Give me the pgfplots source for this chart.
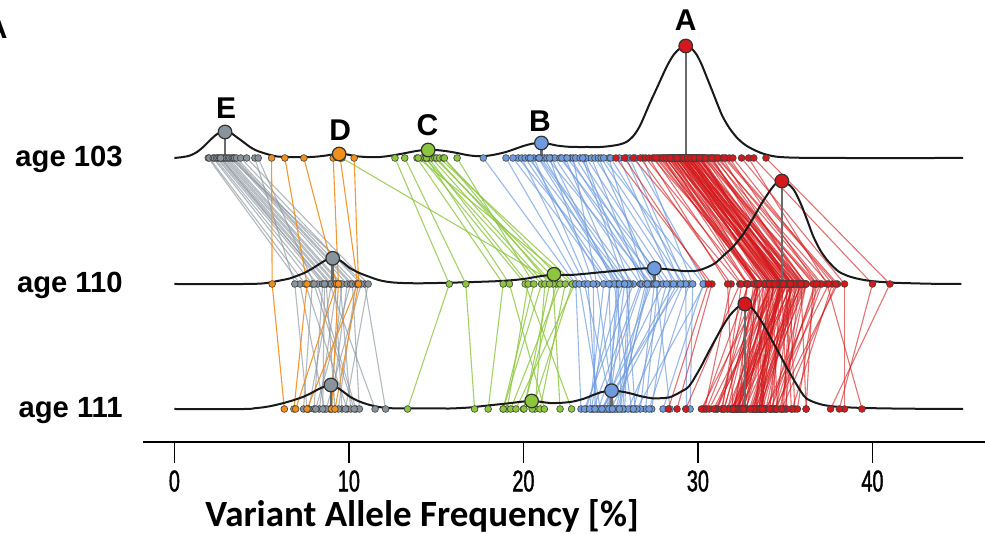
\documentclass[border=0pt]{standalone}
\usepackage{fontspec}
\setmainfont{Liberation Sans}
\newfontfamily\tickfont[FakeStretch=0.66, FakeBold=1.3]{Liberation Sans}
\newfontfamily\titlefont{Carlito}
\usepackage{pgfplots}
\usepackage{pgfplotstable}
\pgfplotsset{compat=1.18}

\definecolor{cRed}{HTML}{D3191C}
\definecolor{cBlue}{HTML}{6E9BDE}
\definecolor{cGreen}{HTML}{8CC63E}
\definecolor{cOrange}{HTML}{F28E1C}
\definecolor{cGray}{HTML}{88939C}
\definecolor{cStem}{HTML}{6A6A6A}

% VAF (%) of each variant at age 103 (a), 110 (b) and 111 (c)
\pgfplotstableread{
a b c
25.3 30.8 28.8
25.8 30.6 28.3
26.3 32.4 29.3
26.7 31.9 30.4
27.0 32.9 30.3
27.2 31.7 32.0
27.4 33.8 30.2
27.5 32.5 31.4
27.7 33.4 31.1
27.8 33.8 32.0
27.9 33.4 30.5
28.0 32.8 32.4
28.1 34.2 32.2
28.2 33.4 32.6
28.3 34.2 31.1
28.35 32.85 31.35
28.4 34.8 32.2
28.5 33.5 33.8
28.55 34.25 30.65
28.6 34.6 33.5
28.65 34.15 31.85
28.7 33.5 31.7
28.75 34.85 31.95
28.8 34.0 33.6
28.85 34.75 32.75
28.9 33.4 32.6
28.95 35.35 32.25
29.0 34.0 32.5
29.0 34.7 32.1
29.05 35.05 35.35
29.1 34.6 31.0
29.1 33.9 32.8
29.15 35.25 32.95
29.2 34.4 32.6
29.2 35.1 32.2
29.25 33.75 33.35
29.3 35.7 33.7
29.3 34.3 33.5
29.35 35.05 31.95
29.4 35.4 33.9
29.4 34.9 32.3
29.45 34.25 34.55
29.5 35.6 32.0
29.5 34.7 33.6
29.55 35.45 33.15
29.6 34.1 32.3
29.65 36.05 33.15
29.7 34.7 34.3
29.75 35.45 33.45
29.8 35.8 35.0
29.85 35.35 32.25
29.9 34.7 33.2
30.0 36.1 33.5
30.05 35.25 35.55
30.1 36.0 32.4
30.2 34.7 33.6
30.3 36.7 34.4
30.4 35.4 33.6
30.5 36.2 33.3
30.6 36.6 36.2
30.7 36.2 34.2
30.8 35.6 34.8
30.9 37.0 33.9
31.0 36.2 34.7
31.2 37.1 34.5
31.4 35.9 36.2
31.6 38.0 34.4
31.8 36.8 35.7
32.0 37.7 35.4
32.5 38.4 38.4
32.9 37.4 39.4
33.2 40.0 38.1
33.9 41.0 37.6
28.0 33.5 31.5
28.5 33.3 32.5
29.0 35.1 32.0
29.6 34.8 33.3
30.0 35.9 33.3
30.3 34.8 35.1
31.1 37.5 33.9
28.2 33.2 32.1
28.6 34.3 32.0
28.9 34.9 33.1
29.1 34.6 31.7
29.3 34.1 33.7
29.5 35.6 33.6
29.7 34.9 34.1
29.9 35.8 32.7
30.2 34.7 33.2
30.4 36.8 34.2
28.4 33.4 33.7
28.8 34.5 30.9
29.2 35.2 34.1
29.4 34.9 32.6
29.6 34.4 32.6
29.8 35.9 33.0
30.1 35.3 34.9
27.6 33.5 31.5
30.8 35.3 34.5
31.5 37.9 34.8
}\clusterA

\pgfplotstableread{
a b c
17.7 23.0 23.3
19.0 23.2 24.4
19.7 25.7 23.6
19.9 23.5 25.1
20.1 25.0 23.9
20.3 25.9 26.4
20.6 23.7 24.2
20.85 25.35 24.9
21.0 26.3 23.5
21.2 25.4 25.6
21.35 27.35 24.6
21.6 25.2 26.2
21.8 26.7 24.0
22.1 27.7 27.0
22.4 25.5 24.8
22.7 27.2 25.4
22.85 24.2 25.2
23.0 27.5 26.7
23.25 28.0 24.5
23.5 26.1 25.8
23.6 28.4 27.35
23.9 26.8 24.3
24.1 28.8 25.0
24.3 27.6 28.4
24.45 29.15 26.0
24.9 27.0 25.3
25.0 29.5 27.2
25.5 28.6 24.7
26.1 29.3 29.35
26.4 30.4 26.5
26.85 29.7 29.55
20.4 24.6 23.8
20.9 26.0 25.7
21.5 24.0 24.1
22.2 27.1 25.5
22.5 28.2 26.3
23.4 25.8 24.9
24.6 30.3 28.0
19.4 24.9 25.1
25.9 29.0 24.5
}\clusterB

\pgfplotstableread{
a b c
9.60 21.90 20.00
12.64 15.75 13.36
13.20 16.70 17.20
13.90 18.84 17.98
14.17 20.10 22.76
14.36 21.04 18.84
14.55 20.27 19.07
14.74 21.23 20.66
14.93 22.10 19.27
15.03 21.70 22.10
15.20 22.95 19.57
15.40 22.40 20.95
15.47 21.50 20.03
16.20 20.60 18.84
13.97 22.80 20.50
14.45 19.20 21.20
}\clusterC

\pgfplotstableread{
a b c
5.57 5.60 6.30
6.33 7.60 6.85
7.42 9.30 6.95
9.10 9.40 9.00
9.50 10.50 7.60
10.30 10.55 9.20
}\clusterD

\pgfplotstableread{
a b c
1.94 7.2 8.6
2.00 7.5 9.9
2.22 7.9 7.4
2.30 8.2 10.4
2.42 8.5 8.0
2.50 8.7 9.2
2.60 8.9 11.5
2.70 9.0 7.7
2.80 9.2 9.6
2.90 9.3 8.3
2.99 9.5 10.1
3.10 9.6 8.9
3.18 10.9 12.1
3.30 9.9 9.0
3.37 10.1 8.1
3.45 10.2 10.6
3.56 10.4 9.4
3.80 10.7 8.7
4.14 11.1 9.8
4.61 6.9 7.6
4.80 8.0 10.3
2.65 8.6 8.5
}\clusterE

\pgfplotsset{
  dot/.style={only marks, mark=*, mark size=1.7pt,
    mark options={fill=#1, draw=black!75, line width=0.3pt}},
  density/.style={black!90, line width=1pt, smooth},
  stem/.style={cStem, line width=1.2pt},
  peak/.style={only marks, mark=*, mark size=3.4pt,
    mark options={fill=#1, draw=black!80, line width=0.6pt}},
}
% lines joining a variant between age 103 and age 110
\newcommand{\joinearly}[3]{% table, colour, opacity
  \addplot[quiver={u=\thisrow{b}-\thisrow{a}, v=-126}, draw=#2, draw opacity=#3, line width=0.55pt]
    table[x=a, y expr=376] {#1};}
% ... and between age 110 and age 111
\newcommand{\joinlate}[3]{%
  \addplot[quiver={u=\thisrow{c}-\thisrow{b}, v=-125}, draw=#2, draw opacity=#3, line width=0.55pt]
    table[x=b, y expr=250] {#1};}
\newcommand{\rowdots}[2]{% table, colour
  \addplot[dot=#2] table[x=a, y expr=376] {#1};
  \addplot[dot=#2] table[x=b, y expr=250] {#1};
  \addplot[dot=#2] table[x=c, y expr=125] {#1};}
\newcommand{\centre}[4]{% x, baseline, peak height, colour
  \addplot[stem] coordinates {(#1,#2) (#1,#3)};
  \addplot[peak=#4] coordinates {(#1,#3)};}

\begin{document}
\begin{tikzpicture}[x=1pt,y=1pt]
\path[use as bounding box] (0,0) rectangle (492.5,267);
\begin{axis}[
  at={(71.5pt,46pt)}, anchor=south west,
  scale only axis, width=421pt, height=221pt,
  xmin=-1.8, xmax=46.45, ymin=92, ymax=534,
  axis x line=bottom, axis y line=none,
  x axis line style={-, line width=1pt},
  xtick={0,10,20,30,40},
  tick align=outside, major tick length=10.5pt,
  xtick style={line width=0.8pt, black},
  /pgf/number format/assume math mode=true,
  xticklabel style={font=\tickfont\fontsize{15}{15}\selectfont, text=black, inner sep=0pt, anchor=north, yshift=-3.5pt},
  clip=false,
]
% variant trajectories
\joinearly{\clusterE}{cGray}{0.65}
\joinearly{\clusterD}{cOrange}{0.9}
\joinearly{\clusterC}{cGreen}{0.8}
\joinearly{\clusterB}{cBlue}{0.7}
\joinearly{\clusterA}{cRed}{0.62}
\joinlate{\clusterE}{cGray}{0.65}
\joinlate{\clusterD}{cOrange}{0.9}
\joinlate{\clusterC}{cGreen}{0.8}
\joinlate{\clusterB}{cBlue}{0.7}
\joinlate{\clusterA}{cRed}{0.62}

% VAF density per age
\addplot[density] coordinates {(0,376) (0.5,377) (0.9,378.5) (1.3,382) (1.65,387) (2.0,393) (2.3,398) (2.6,401.5) (2.9,403) (3.2,401.5) (3.56,397) (3.95,392) (4.33,387) (4.7,383.5) (5.1,381) (5.5,379) (5.9,377.5) (6.5,377) (7.4,376.8) (8.1,377.3) (8.7,378.5) (9.1,379.6) (9.45,380.2) (9.9,379.5) (10.4,377.8) (11.0,377) (11.6,376.8) (12.2,377.8) (12.7,379.2) (13.2,380.8) (13.7,382.5) (14.1,383.6) (14.55,384.2) (15.1,383.8) (15.6,382.8) (16.2,381) (16.75,379) (17.2,378) (17.7,377.8) (18.3,379.2) (19.0,382) (19.5,385) (20.0,388) (20.5,390.3) (21.0,391) (21.5,390) (21.9,388.5) (22.5,387.3) (23.05,387) (23.7,387) (24.4,387) (25.0,388) (25.5,389.5) (25.9,392) (26.3,398) (26.7,409) (27.25,431) (27.7,448) (28.2,467) (28.6,479) (29.0,486) (29.3,488) (29.6,486) (29.9,480) (30.2,470) (30.5,457) (30.8,444) (31.07,432) (31.4,418) (31.8,406) (32.2,397) (32.6,390.5) (33.0,386) (33.55,381.5) (34.0,379) (34.5,377.3) (35.2,376.5) (36,376.2) (38,376) (45.2,376)};
\addplot[density] coordinates {(0,250) (4,250) (5.2,250.8) (6.05,253.5) (6.6,255.5) (7.0,258) (7.5,261.5) (7.95,266) (8.4,271) (8.75,274.5) (9.07,275.7) (9.4,274.5) (9.7,271) (10.05,266) (10.6,261) (11.2,257) (11.7,254) (12.2,252.2) (12.8,251.2) (14,250.7) (15.8,251.3) (16.8,251.8) (17.7,252.3) (18.7,253) (19.6,254.2) (20.2,255.5) (20.75,257.2) (21.3,258.6) (21.75,259.3) (22.3,259.2) (22.85,259.2) (23.6,260.3) (24.4,261.7) (25.2,263) (25.9,264.2) (26.7,265.4) (27.5,265.7) (28.2,264.8) (28.8,263.6) (29.4,262.8) (30.0,263.5) (30.5,266.5) (31.0,271) (31.5,279) (32.0,287) (32.6,300) (33.2,317) (33.7,332) (34.2,345) (34.5,351) (34.81,353) (35.1,351) (35.5,344) (35.9,330) (36.3,312) (36.6,298) (37.0,284) (37.4,274) (37.8,266.5) (38.1,262) (38.6,258) (39.1,255.5) (39.7,253.5) (40.4,252.2) (41.3,251.2) (42.3,250.7) (43.5,250.2) (45.1,250)};
\addplot[density] coordinates {(0,125) (4,125) (4.6,125.8) (5.1,126.7) (5.6,128.2) (6.2,130.7) (6.8,133.7) (7.4,137.3) (7.9,141.5) (8.4,146) (8.97,149) (9.5,144.5) (10.06,137.3) (10.6,132.5) (11.2,129) (11.8,126.8) (12.35,125.8) (13.5,125.6) (15.0,125.7) (15.8,125.5) (16.9,126.5) (17.7,128) (18.5,129.5) (19.2,130.8) (19.9,132.3) (20.47,133) (21.0,132.2) (21.5,131) (22.2,131.2) (22.85,132.5) (23.5,135.5) (24.0,139) (24.5,142) (25.05,143.3) (25.6,142.5) (26.1,140.7) (26.8,137.5) (27.4,135.7) (27.9,135.8) (28.4,136.8) (29.0,142) (29.5,148) (30.1,165) (30.7,185) (31.3,204) (31.8,218) (32.3,227) (32.69,230) (33.1,226) (33.7,211) (34.2,195) (34.65,180.7) (35.1,166) (35.5,154) (35.9,142.5) (36.2,135.7) (36.7,131.5) (37.2,129) (37.8,127.5) (38.5,126.7) (39.5,126) (40.4,125.7) (42,125.3) (45.2,125)};

% variants at each age
\rowdots{\clusterE}{cGray}
\rowdots{\clusterD}{cOrange}
\rowdots{\clusterC}{cGreen}
\rowdots{\clusterB}{cBlue}
\rowdots{\clusterA}{cRed}

% cluster centres
\centre{2.9}{376}{402}{cGray}
\centre{9.44}{376}{380}{cOrange}
\centre{14.54}{376}{384}{cGreen}
\centre{21.03}{376}{391}{cBlue}
\centre{29.3}{376}{488}{cRed}
\centre{9.07}{250}{275.7}{cGray}
\centre{21.75}{250}{259.7}{cGreen}
\centre{27.5}{250}{265.7}{cBlue}
\centre{34.81}{250}{353}{cRed}
\centre{8.97}{125}{149}{cGray}
\centre{20.47}{125}{133}{cGreen}
\centre{25.05}{125}{143.3}{cBlue}
\centre{32.69}{125}{230}{cRed}

% cluster names
\begin{scope}[every node/.style={font=\bfseries\fontsize{15}{15}\selectfont, inner sep=0pt}]
\node at (axis cs:29.3,514) {A};
\node at (axis cs:20.95,412.5) {B};
\node at (axis cs:14.5,409) {C};
\node at (axis cs:9.5,404) {D};
\node at (axis cs:2.97,426) {E};
\end{scope}

% ages
\begin{scope}[every node/.style={anchor=base east, inner sep=0pt, font=\bfseries\fontsize{14.6}{14.6}\selectfont}]
\node at (axis cs:-1.8,367) [xshift=-10pt] {age 103};
\node at (axis cs:-1.8,241) [xshift=-10pt] {age 110};
\node at (axis cs:-1.8,116) [xshift=-10pt] {age 111};
\end{scope}

\node[font=\titlefont\bfseries\fontsize{18.5}{18.5}\selectfont, inner sep=0pt]
  at (axis cs:14.2,18) {Variant Allele Frequency [\%]};
\end{axis}
\node[anchor=base east, inner sep=0pt, font=\bfseries\fontsize{15}{15}\selectfont] at (4,247.5) {A};
\end{tikzpicture}
\end{document}
